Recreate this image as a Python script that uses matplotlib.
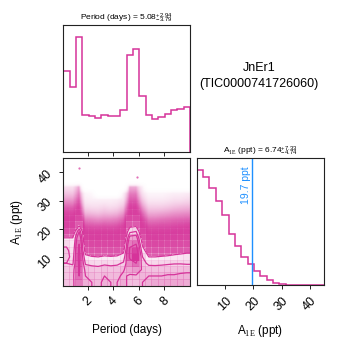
import numpy as np
import matplotlib
matplotlib.use("Agg")
import matplotlib.pyplot as plt
from matplotlib.colors import LinearSegmentedColormap, to_rgba
import matplotlib.transforms as mtransforms

plt.rcParams['font.family'] = ['Liberation Sans', 'DejaVu Sans']
plt.rcParams['mathtext.fontset'] = 'custom'
plt.rcParams['mathtext.rm'] = 'Liberation Serif'
plt.rcParams['mathtext.it'] = 'Liberation Sans:italic'
plt.rcParams['mathtext.bf'] = 'Liberation Sans:bold'
plt.rcParams['mathtext.default'] = 'regular'

# ---------------- data ----------------
period_range = (0.1, 10.0)
amp_range = (0.0, 45.0)

# marginal histogram of Period (20 bins)
period_hist = [0.700, 0.562, 1.000, 0.317, 0.313, 0.294, 0.323, 0.311, 0.313, 0.358,
               0.844, 0.894, 0.481, 0.315, 0.285, 0.302, 0.326, 0.360, 0.375, 0.389]
# marginal histogram of A_1E (20 bins)
amp_hist = [1.000, 0.936, 0.841, 0.729, 0.606, 0.448, 0.339, 0.241, 0.184, 0.126,
            0.080, 0.046, 0.017, 0.007, 0.0, 0.0, 0.0, 0.0, 0.0, 0.0]

# 2D density: one list per period bin, amplitude bins from 0 upward
density_columns = [
    [27, 27, 26, 24, 27, 26.5, 22, 15.5, 8, 4, 2.5, 1.5, 0.8, 0.4, 0.2, 0.1],
    [28, 28, 27, 23, 21, 19, 17, 15.5, 8, 4, 2.5, 1.5, 0.8, 0.4, 0.2, 0.1],
    [40, 42, 43, 44, 45, 44, 42, 38, 30, 14, 6, 3, 1.8, 1.0, 0.6, 0.35],
    [31, 30, 28, 23, 18, 11, 6.5, 3.8, 2.2, 1.1, 0.55, 0.25, 0.12, 0.06, 0.03, 0],
    [30, 29, 27, 22, 16, 10, 6, 3.5, 2, 1, 0.5, 0.22, 0.1, 0.05, 0.02, 0],
    [29, 28, 26.5, 21.5, 15.5, 9.5, 5.8, 3.3, 1.9, 0.95, 0.45, 0.2, 0.1, 0.05, 0, 0],
    [31, 30, 28, 22.5, 16.5, 10.5, 6.2, 3.6, 2.1, 1.05, 0.5, 0.24, 0.12, 0.05, 0, 0],
    [30, 29, 27, 22, 16, 10, 6, 3.5, 2, 1, 0.5, 0.22, 0.1, 0.05, 0, 0],
    [30, 29, 27.5, 22.5, 16.5, 10.5, 6.2, 3.6, 2.1, 1.1, 0.55, 0.25, 0.12, 0.06, 0, 0],
    [32, 31, 29.5, 25, 19.5, 13, 8, 4.8, 2.8, 1.5, 0.8, 0.4, 0.2, 0.1, 0.05, 0],
    [28, 29, 33, 38, 44, 44, 40, 33, 22, 12, 6, 3, 1.8, 1, 0.6, 0.3],
    [28, 29, 35, 42, 50, 48, 42, 34, 24, 13, 6.5, 3.2, 1.8, 1, 0.6, 0.3],
    [30, 30, 29, 27, 24, 19, 14, 9, 5, 2.8, 1.5, 0.8, 0.4, 0.2, 0.1, 0.05],
    [31, 30, 28, 22, 15.5, 10, 6, 3.5, 2, 1.1, 0.6, 0.3, 0.15, 0.07, 0.03, 0],
    [32.5, 30, 27.5, 22, 15.5, 10, 6, 3.5, 2, 1.1, 0.6, 0.3, 0.15, 0.07, 0.03, 0],
    [32.5, 30, 27.5, 22.5, 16, 10.5, 6.2, 3.6, 2.1, 1.2, 0.65, 0.32, 0.15, 0.07, 0.03, 0],
    [33, 30.5, 28, 23, 16.5, 11, 6.5, 3.8, 2.2, 1.2, 0.7, 0.35, 0.17, 0.08, 0.04, 0],
    [33, 30.5, 28, 23.5, 17.5, 11.5, 7, 4, 2.4, 1.3, 0.75, 0.4, 0.2, 0.1, 0.05, 0],
    [33, 31, 28.5, 23.5, 18, 12.5, 7.5, 4.4, 2.6, 1.4, 0.8, 0.42, 0.22, 0.1, 0.05, 0],
    [32, 31, 29, 23, 19, 13, 8, 4.8, 2.8, 1.5, 0.85, 0.45, 0.24, 0.12, 0.06, 0],
]
outlier_period = [1.32, 5.83]
outlier_amp = [41.5, 38.3]

period_stats = ("5.08", "2.94", "3.79")   # median, +err, -err
amp_stats = ("6.74", "7.33", "4.74")
threshold = 19.7
target_name = "JnEr1"
tic_id = "TIC0000741726060"
period_ticks = [2, 4, 6, 8]
amp_ticks = [10, 20, 30, 40]
period_label = "Period (days)"
amp_label = r"A$_{\rm 1E}$ (ppt)"

# ---------------- style ----------------
C = "#d6339a"
BLUE = "#1e90ff"
levels = 1.0 - np.exp(-0.5 * np.arange(0.5, 2.1, 0.5) ** 2)

fig = plt.figure(figsize=(3.49, 3.49), dpi=100)
ax_top = fig.add_axes([0.1814, 0.5653, 0.363, 0.363])
ax_2d = fig.add_axes([0.1814, 0.1819, 0.363, 0.3645])
ax_r = fig.add_axes([0.5636, 0.1825, 0.3648, 0.3640])

for ax in (ax_top, ax_2d, ax_r):
    for s in ax.spines.values():
        s.set_linewidth(0.8)
        s.set_color("#222222")
    ax.tick_params(width=0.7, length=3, labelsize=9, color="#222222")

pedges = np.linspace(period_range[0], period_range[1], len(period_hist) + 1)
aedges = np.linspace(amp_range[0], amp_range[1], len(amp_hist) + 1)

# ---- top histogram
ax_top.stairs(period_hist, pedges, color=C, lw=1.1)
ax_top.set_xlim(period_range)
ax_top.set_ylim(0, 1.1 * max(period_hist))
ax_top.set_yticks([])
ax_top.set_xticks(period_ticks)
ax_top.set_xticklabels([])
ax_top.set_title(r"%s = $%s_{-%s}^{+%s}$" % (period_label, period_stats[0], period_stats[2], period_stats[1]),
                 fontsize=6, pad=3)

# ---- right histogram
ax_r.stairs(amp_hist, aedges, color=C, lw=1.1)
ax_r.set_xlim(amp_range)
ax_r.set_ylim(0, 1.1 * max(amp_hist))
ax_r.set_yticks([])
ax_r.set_xticks(amp_ticks)
for l in ax_r.get_xticklabels():
    l.set_rotation(45)
ax_r.axvline(threshold, color=BLUE, lw=1.0)
trans = mtransforms.blended_transform_factory(ax_r.transData, ax_r.transAxes)
ax_r.text(threshold - 0.6, 0.935, "%.1f ppt" % threshold, rotation=90, color=BLUE,
          ha="right", va="top", fontsize=7.5, transform=trans)
ax_r.set_title(r"%s = $%s_{-%s}^{+%s}$" % (amp_label, amp_stats[0], amp_stats[2], amp_stats[1]),
               fontsize=6, pad=3)
ax_r.set_xlabel(amp_label, fontsize=8.5)
ax_r.xaxis.set_label_coords(0.5, -0.3)

# ---- 2D density (corner style)
nP = len(density_columns)
nA = len(amp_hist)
H = np.zeros((nP, nA))
for i, col in enumerate(density_columns):
    H[i, :len(col)] = col
Xc = 0.5 * (pedges[1:] + pedges[:-1])
Yc = 0.5 * (aedges[1:] + aedges[:-1])

# scattered samples appearance (point cloud), from density
fx = np.linspace(period_range[0], period_range[1], 400)
fy = np.linspace(amp_range[0], amp_range[1], 400)
logH = np.log(H + 1e-3)
tmp = np.array([np.interp(fy, Yc, logH[i]) for i in range(nP)])
fine = np.array([np.interp(fx, Xc, tmp[:, k]) for k in range(len(fy))])
Hf = np.exp(fine)
cloud = np.zeros((len(fy), len(fx), 4))
cloud[..., :3] = to_rgba(C)[:3]
cloud[..., 3] = 1.0 - 0.9 ** (16.0 * Hf)
ax_2d.imshow(cloud, extent=(period_range[0], period_range[1], amp_range[0], amp_range[1]),
             origin="lower", aspect="auto", zorder=-1, interpolation="bilinear")
ax_2d.plot(outlier_period, outlier_amp, "o", ms=1.6, mec="none", color=C, alpha=0.7, zorder=-1)

Hflat = H.flatten()
inds = np.argsort(Hflat)[::-1]
Hflat = Hflat[inds]
sm = np.cumsum(Hflat)
sm /= sm[-1]
V = np.empty(len(levels))
for i, v0 in enumerate(levels):
    V[i] = Hflat[sm <= v0][-1]
V.sort()

H2 = H.min() + np.zeros((H.shape[0] + 4, H.shape[1] + 4))
H2[2:-2, 2:-2] = H
H2[2:-2, 1] = H[:, 0]
H2[2:-2, -2] = H[:, -1]
H2[1, 2:-2] = H[0]
H2[-2, 2:-2] = H[-1]
H2[1, 1] = H[0, 0]
H2[1, -2] = H[0, -1]
H2[-2, 1] = H[-1, 0]
H2[-2, -2] = H[-1, -1]
X2 = np.concatenate([Xc[0] + np.array([-2, -1]) * np.diff(Xc[:2]), Xc,
                     Xc[-1] + np.array([1, 2]) * np.diff(Xc[-2:])])
Y2 = np.concatenate([Yc[0] + np.array([-2, -1]) * np.diff(Yc[:2]), Yc,
                     Yc[-1] + np.array([1, 2]) * np.diff(Yc[-2:])])

white_cmap = LinearSegmentedColormap.from_list("white_cmap", [(1, 1, 1), (1, 1, 1)], N=2)
ax_2d.contourf(X2, Y2, H2.T, [V.min(), H.max()], cmap=white_cmap, antialiased=False)
density_cmap = LinearSegmentedColormap.from_list("density_cmap", [C, (1, 1, 1, 0)])
ax_2d.pcolor(pedges, aedges, H.max() - H.T, cmap=density_cmap)
ax_2d.contour(X2, Y2, H2.T, V, colors=C, linewidths=0.9)

ax_2d.set_xlim(period_range)
ax_2d.set_ylim(amp_range)
ax_2d.set_xticks(period_ticks)
ax_2d.set_yticks(amp_ticks)
for l in ax_2d.get_xticklabels():
    l.set_rotation(45)
for l in ax_2d.get_yticklabels():
    l.set_rotation(45)
ax_2d.set_xlabel(period_label, fontsize=8.5)
ax_2d.set_ylabel(amp_label, fontsize=8.5)
ax_2d.xaxis.set_label_coords(0.5, -0.3)
ax_2d.yaxis.set_label_coords(-0.3, 0.5)

fig.text(0.742, 0.783, "%s\n(%s)" % (target_name, tic_id), ha="center", va="center",
         fontsize=9, linespacing=1.45)

fig.savefig("out.png", dpi=100)
